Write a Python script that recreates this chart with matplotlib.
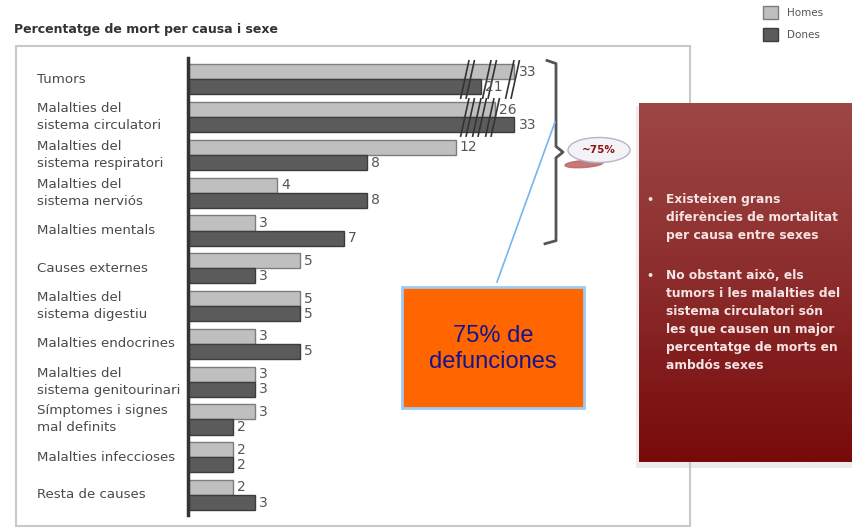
import numpy as np
import matplotlib
matplotlib.use("Agg")
from matplotlib import pyplot as plt
import matplotlib.patches as mpatches
import matplotlib.transforms as mtransforms
from matplotlib.path import Path
from matplotlib.colors import LinearSegmentedColormap

## Data
causes = ["Tumors",
          "Malalties del\nsistema circulatori",
          "Malalties del\nsistema respiratori",
          "Malalties del\nsistema nerviós",
          "Malalties mentals",
          "Causes externes",
          "Malalties del\nsistema digestiu",
          "Malalties endocrines",
          "Malalties del\nsistema genitourinari",
          "Símptomes i signes\nmal definits",
          "Malalties infeccioses",
          "Resta de causes"]
homes = [33, 26, 12, 4, 3, 5, 5, 3, 3, 3, 2, 2]
dones = [21, 33, 8, 8, 7, 3, 5, 5, 3, 2, 2, 3]
series_names = ["Homes", "Dones"]
note_points = ["Existeixen grans\ndiferències de mortalitat\nper causa entre sexes",
               "No obstant això, els\ntumors i les malalties del\nsistema circulatori són\nles que causen un major\npercentatge de morts en\nambdós sexes"]
share_label = "~75%"
box_label = "75% de\ndefunciones"

W, H = 852, 529
BREAK = 12
SQUEEZE = 0.125


def fwd(v):
    v = np.asarray(v, dtype=float)
    return np.where(v <= BREAK, v, BREAK + (v - BREAK) * SQUEEZE)


def inv(u):
    u = np.asarray(u, dtype=float)
    return np.where(u <= BREAK, u, BREAK + (u - BREAK) / SQUEEZE)


def fig_rect(x0, y0, x1, y1):
    # pixel box (top-left origin) -> figure fraction
    return [x0 / W, 1 - y1 / H, (x1 - x0) / W, (y1 - y0) / H]


fig = plt.figure(figsize=(W / 100, H / 100), dpi=100)
fig.patch.set_facecolor("white")

## Overlay for frames and call-outs (pixel coordinates)
ov = fig.add_axes([0, 0, 1, 1], zorder=2)
ov.set_xlim(0, W)
ov.set_ylim(H, 0)
ov.axis("off")

ov.add_patch(mpatches.Rectangle((16, 46), 674, 480, fill=False, ec="#c9c9c9", lw=1.5))
fig.text(14 / W, 1 - 30 / H, "Percentatge de mort per causa i sexe", fontsize=9,
         fontweight="bold", color="#333333", va="center")

## Bars
ax = fig.add_axes(fig_rect(188, 58, 545, 515), zorder=1)
ax.patch.set_visible(False)
ax.set_xscale("function", functions=(fwd, inv))
ax.set_xlim(0, 44)
y = np.arange(len(causes))
ax.set_ylim(11.53, -0.566)

bh = 0.4
b1 = ax.barh(y - bh / 2, homes, height=bh, color="#bfbfbf", edgecolor="#7d7d7d", lw=1, label=series_names[0])
b2 = ax.barh(y + bh / 2, dones, height=bh, color="#5b5b5b", edgecolor="#3c3c3c", lw=1, label=series_names[1])

for yy, v in zip(y - bh / 2, homes):
    ax.annotate(str(v), (v, yy), xytext=(3, 0), textcoords="offset points",
                va="center", ha="left", fontsize=10, color="#555555")
for yy, v in zip(y + bh / 2, dones):
    ax.annotate(str(v), (v, yy), xytext=(3, 0), textcoords="offset points",
                va="center", ha="left", fontsize=10, color="#555555")

## break marks on the squeezed bars
slash = Path([(-0.36, -1), (0.08, 1), (-0.08, -1), (0.36, 1)],
             [Path.MOVETO, Path.LINETO, Path.MOVETO, Path.LINETO])
for i, (h, d) in enumerate(zip(homes, dones)):
    if max(h, d) > BREAK:
        xs = np.linspace(16, h - 1, 3)
        ax.plot(xs, [i] * 3, ls="none", marker=slash, ms=28, mec="#333333", mfc="none", mew=1.2)

for s in ["top", "right", "bottom"]:
    ax.spines[s].set_visible(False)
ax.spines["left"].set_color("#333333")
ax.spines["left"].set_linewidth(2.5)
ax.set_xticks([])
ax.set_yticks([])
ax.minorticks_off()

lab_tr = mtransforms.blended_transform_factory(fig.transFigure, ax.transData)
for i, c in enumerate(causes):
    ax.text(37 / W, i, c, transform=lab_tr, ha="left", va="center", fontsize=9.6,
            color="#4a4a4a", linespacing=1.4)

## brace over the top five causes
bt = mtransforms.blended_transform_factory(ax.transAxes, ax.transData)
px = lambda p: (p - 188) / 357.0
top, bot = -0.5, 4.35
mid = (top + bot) / 2
ax.plot([px(547), px(556), px(556), px(563), px(556), px(556), px(545)],
        [top, top + 0.08, mid - 0.15, mid, mid + 0.15, bot - 0.08, bot],
        color="#555555", lw=2, transform=bt, clip_on=False, solid_joinstyle="round")

## legend
fig.legend(handles=[b1, b2], labels=series_names, loc="upper left",
           bbox_to_anchor=(763 / W, 1 - 6 / H), frameon=False, fontsize=7.5,
           handlelength=1.45, handleheight=1.5, handletextpad=0.85, labelspacing=0.9,
           borderpad=0, borderaxespad=0, labelcolor="#555555")

## call-outs
ov.add_patch(mpatches.Ellipse((584, 164), 38, 7, angle=-4, color="#c06a6a", alpha=0.9))
ov.add_patch(mpatches.Ellipse((599, 150), 62, 25, fc="#f3f3f7", ec="#b5b5c5", lw=1))
ov.text(599, 150, share_label, ha="center", va="center", fontsize=7.5, fontweight="bold", color="#8b1414")

ov.plot([555, 497], [122, 282], color="#78b4f0", lw=1.2)
ov.add_patch(mpatches.Rectangle((402, 287), 182, 121, fc="#ff6600", ec="#9ccaf5", lw=2))
ov.text(493, 349, box_label, ha="center", va="center", fontsize=17, family="Liberation Sans",
        color="#14148c", linespacing=1.2)

## red note panel
ov.add_patch(mpatches.Rectangle((636, 106), 216, 362, fc="#c8c8c8", ec="none", alpha=0.35))
rax = fig.add_axes(fig_rect(639, 103, W, 462), zorder=3)
cmap = LinearSegmentedColormap.from_list("panel", ["#9e4646", "#8c2c2c", "#780a0a"])
rax.imshow(np.linspace(0, 1, 256).reshape(-1, 1), cmap=cmap, aspect="auto",
           extent=[639, W, 462, 103])
rax.set_xlim(639, W)
rax.set_ylim(462, 103)
rax.axis("off")

ys = [200, 276]
for yy, t in zip(ys, note_points):
    rax.text(650, yy, "•", ha="center", va="center", fontsize=8, fontweight="bold", color="#f4e4e4")
    rax.text(666, yy - 7, t, ha="left", va="top", fontsize=8.8, fontweight="bold",
             color="#f4e4e4", linespacing=1.5)

fig.savefig("out.png", dpi=100)
